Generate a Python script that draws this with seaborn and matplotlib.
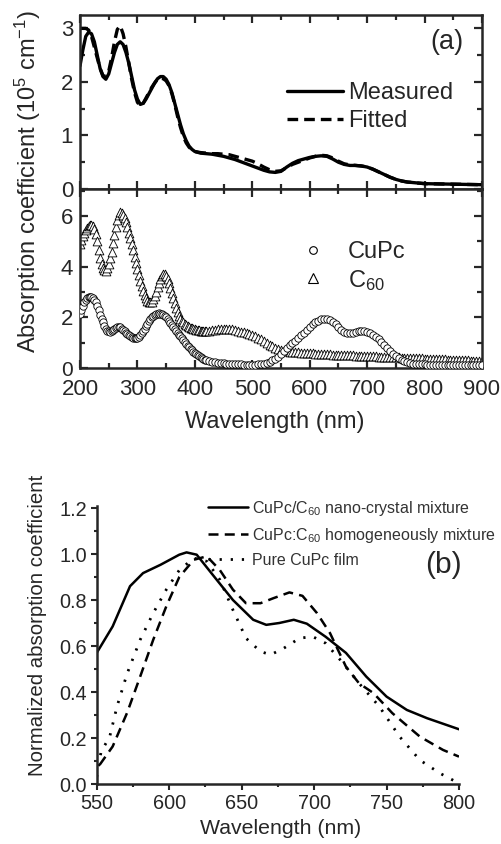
import numpy as np
import pandas as pd
import matplotlib
matplotlib.use("Agg")
import matplotlib.pyplot as plt
from matplotlib.ticker import MultipleLocator, FormatStrFormatter
from matplotlib.lines import Line2D
import seaborn as sns

# ---------------- data: panel (a) top ----------------
meas_x = [200, 205, 210, 215, 220, 225, 230, 235, 240, 245, 250, 255, 260, 265, 270, 275, 280, 285, 290, 295,
          300, 305, 310, 315, 320, 325, 330, 335, 340, 345, 350, 355, 360, 365, 370, 375, 380, 385, 390, 395,
          400, 410, 420, 430, 440, 450, 460, 470, 480, 490, 500, 510, 520, 530, 540, 550, 560, 570, 580, 590,
          600, 610, 620, 630, 640, 650, 660, 670, 680, 690, 700, 710, 720, 730, 740, 750, 760, 770, 780, 790,
          800, 850, 900]
measured = [2.3, 2.6, 2.85, 2.93, 2.9, 2.75, 2.5, 2.25, 2.1, 2.05, 2.15, 2.35, 2.55, 2.7, 2.75, 2.7, 2.55, 2.35, 2.1, 1.85,
            1.68, 1.58, 1.6, 1.68, 1.78, 1.88, 1.98, 2.06, 2.1, 2.1, 2.05, 1.95, 1.8, 1.6, 1.4, 1.2, 1.03, 0.9, 0.8, 0.74,
            0.7, 0.67, 0.66, 0.65, 0.63, 0.61, 0.58, 0.55, 0.51, 0.47, 0.43, 0.39, 0.35, 0.32, 0.31, 0.33, 0.41, 0.48, 0.53, 0.56,
            0.59, 0.61, 0.62, 0.61, 0.56, 0.5, 0.46, 0.44, 0.44, 0.43, 0.41, 0.37, 0.32, 0.27, 0.22, 0.18, 0.15, 0.13, 0.12, 0.11,
            0.1, 0.09, 0.08]
fitted = [3.0, 3.0, 3.0, 2.97, 2.85, 2.65, 2.45, 2.25, 2.12, 2.1, 2.2, 2.45, 2.75, 2.98, 3.05, 2.9, 2.65, 2.35, 2.05, 1.8,
          1.62, 1.55, 1.6, 1.7, 1.8, 1.9, 1.98, 2.05, 2.07, 2.06, 2.02, 1.93, 1.78, 1.58, 1.35, 1.15, 0.98, 0.86, 0.78, 0.73,
          0.7, 0.68, 0.67, 0.66, 0.66, 0.65, 0.64, 0.61, 0.58, 0.55, 0.52, 0.47, 0.41, 0.36, 0.33, 0.34, 0.4, 0.46, 0.5, 0.54,
          0.58, 0.61, 0.63, 0.62, 0.58, 0.52, 0.47, 0.45, 0.44, 0.43, 0.41, 0.37, 0.32, 0.27, 0.22, 0.18, 0.15, 0.13, 0.12, 0.11,
          0.1, 0.09, 0.08]

# ---------------- data: panel (a) bottom ----------------
# 2.5 nm steps over 200..417.5 nm, then 5 nm steps over 420..900 nm
comp_x = list(np.arange(200, 420, 2.5)) + list(range(420, 905, 5))
cupc = [2.15, 2.3, 2.45, 2.59, 2.7, 2.77, 2.8, 2.81, 2.8, 2.76,
        2.7, 2.59, 2.45, 2.28, 2.1, 1.94, 1.8, 1.66, 1.55, 1.48,
        1.45, 1.44, 1.45, 1.5, 1.55, 1.58, 1.6, 1.61, 1.6, 1.56,
        1.5, 1.45, 1.4, 1.35, 1.3, 1.26, 1.22, 1.19, 1.18, 1.18,
        1.2, 1.24, 1.3, 1.37, 1.45, 1.55, 1.65, 1.75, 1.85, 1.93,
        2.0, 2.06, 2.1, 2.13, 2.15, 2.16, 2.15, 2.13, 2.1, 2.06,
        2.0, 1.93, 1.85, 1.78, 1.7, 1.62, 1.55, 1.47, 1.4, 1.32,
        1.25, 1.17, 1.1, 1.02, 0.95, 0.88, 0.82, 0.76, 0.7, 0.65,
        0.6, 0.55, 0.5, 0.46, 0.42, 0.39, 0.36, 0.33,
        # 420 nm onward
        0.31, 0.27, 0.24, 0.22, 0.2, 0.19,
        0.18, 0.17, 0.16, 0.15, 0.15, 0.14, 0.14, 0.13, 0.13, 0.13,
        0.13, 0.13, 0.14, 0.15, 0.17, 0.2, 0.24, 0.3, 0.37, 0.45,
        0.55, 0.66, 0.78, 0.9, 0.98, 1.08, 1.18, 1.29, 1.4, 1.51,
        1.62, 1.72, 1.8, 1.87, 1.92, 1.95, 1.95, 1.9, 1.82, 1.72,
        1.6, 1.5, 1.42, 1.38, 1.37, 1.4, 1.44, 1.47, 1.48, 1.47,
        1.44, 1.39, 1.32, 1.24, 1.14, 1.03, 0.91, 0.79, 0.67, 0.56,
        0.46, 0.38, 0.31, 0.26, 0.22, 0.19, 0.17, 0.16, 0.15, 0.14,
        0.14, 0.13, 0.13, 0.13, 0.12, 0.12, 0.12, 0.12, 0.11, 0.11,
        0.11, 0.11, 0.1, 0.1, 0.1, 0.1, 0.1, 0.1, 0.1, 0.1, 0.1]
c60 = [4.9, 5.06, 5.2, 5.33, 5.45, 5.54, 5.6, 5.64, 5.65, 5.6,
       5.5, 5.28, 5.0, 4.66, 4.35, 4.1, 3.95, 3.87, 3.85, 3.93,
       4.1, 4.33, 4.6, 4.92, 5.25, 5.57, 5.85, 6.05, 6.15, 6.13,
       6.05, 5.92, 5.75, 5.56, 5.35, 5.13, 4.9, 4.65, 4.4, 4.14,
       3.9, 3.67, 3.45, 3.24, 3.05, 2.88, 2.75, 2.66, 2.6, 2.59,
       2.62, 2.71, 2.85, 3.02, 3.2, 3.37, 3.52, 3.64, 3.7, 3.7,
       3.65, 3.52, 3.35, 3.15, 2.95, 2.75, 2.55, 2.36, 2.2, 2.06,
       1.95, 1.86, 1.8, 1.75, 1.7, 1.66, 1.62, 1.59, 1.57, 1.55,
       1.53, 1.51, 1.5, 1.49, 1.48, 1.47, 1.47, 1.47,
       # 420 nm onward
       1.47, 1.48, 1.5, 1.52, 1.54, 1.55,
       1.56, 1.56, 1.55, 1.53, 1.5, 1.47, 1.44, 1.41, 1.38, 1.35,
       1.31, 1.26, 1.2, 1.13, 1.06, 0.99, 0.92, 0.86, 0.8, 0.76,
       0.72, 0.69, 0.67, 0.65, 0.64, 0.63, 0.62, 0.61, 0.6, 0.59,
       0.58, 0.58, 0.57, 0.56, 0.56, 0.55, 0.55, 0.54, 0.53, 0.53,
       0.52, 0.52, 0.51, 0.51, 0.5, 0.5, 0.49, 0.49, 0.48, 0.48,
       0.47, 0.47, 0.46, 0.46, 0.45, 0.45, 0.44, 0.44, 0.43, 0.43,
       0.42, 0.42, 0.41, 0.41, 0.4, 0.4, 0.39, 0.39, 0.38, 0.38,
       0.37, 0.37, 0.36, 0.36, 0.35, 0.35, 0.34, 0.34, 0.33, 0.33,
       0.32, 0.32, 0.31, 0.31, 0.3, 0.3, 0.29, 0.29, 0.28, 0.28, 0.27]

# ---------------- data: panel (b) ----------------
nano_x = [550, 561, 573, 582, 594, 607, 612, 619, 630, 644, 658, 667, 676, 686, 695, 708, 722, 736, 750, 764, 778, 800]
nano_y = [0.57, 0.685, 0.86, 0.917, 0.953, 0.997, 1.007, 0.997, 0.91, 0.80, 0.714, 0.692, 0.70, 0.714, 0.697, 0.64,
          0.57, 0.467, 0.38, 0.322, 0.286, 0.238]
homo_x = [552, 561, 571, 580, 589, 598, 607, 617, 626, 635, 644, 653, 663, 672, 683, 692, 702, 711, 722, 731, 741,
          754, 773, 789, 800]
homo_y = [0.083, 0.163, 0.31, 0.467, 0.627, 0.772, 0.90, 0.975, 0.99, 0.93, 0.845, 0.786, 0.786, 0.808, 0.833, 0.818,
          0.743, 0.656, 0.51, 0.438, 0.395, 0.308, 0.206, 0.148, 0.119]
pure_x = [550, 553, 559, 564, 571, 580, 589, 598, 607, 617, 626, 635, 644, 653, 663, 670, 679, 690, 699, 708, 718,
          731, 745, 759, 773, 787, 800]
pure_y = [0.03, 0.14, 0.206, 0.337, 0.48, 0.627, 0.743, 0.845, 0.93, 0.982, 0.968, 0.888, 0.757, 0.634, 0.576, 0.562,
          0.59, 0.634, 0.641, 0.612, 0.54, 0.438, 0.337, 0.206, 0.104, 0.046, 0.003]

# ---------------- style ----------------
sns.set_style("ticks")
plt.rcParams["font.family"] = ["Liberation Sans", "DejaVu Sans"]
plt.rcParams["mathtext.fontset"] = "custom"
plt.rcParams["mathtext.rm"] = "Liberation Sans"
plt.rcParams["mathtext.it"] = "Liberation Sans:italic"
plt.rcParams["mathtext.bf"] = "Liberation Sans:bold"

W, H = 502, 844
fig = plt.figure(figsize=(W / 100, H / 100), dpi=100)


def ax_rect(x0, y0, x1, y1):
    return [x0 / W, 1 - y1 / H, (x1 - x0) / W, (y1 - y0) / H]


ax1 = fig.add_axes(ax_rect(80, 15, 482, 189))
ax2 = fig.add_axes(ax_rect(80, 189, 482, 368))
axb = fig.add_axes(ax_rect(96.7, 505.7, 459, 784))

FS_A = 16
FS_B = 14.3

df_top = pd.DataFrame({"x": meas_x, "Measured": measured, "Fitted": fitted})
sns.lineplot(data=df_top, x="x", y="Measured", ax=ax1, color="black", lw=2.4, label="Measured")
sns.lineplot(data=df_top, x="x", y="Fitted", ax=ax1, color="black", lw=2.4, label="Fitted",
             linestyle=(0, (3.2, 1.8)))
ax1.set_xlim(200, 900)
ax1.set_ylim(0, 3.25)
ax1.yaxis.set_major_locator(MultipleLocator(1))
ax1.yaxis.set_minor_locator(MultipleLocator(0.5))

df_comp = pd.DataFrame({"x": comp_x, "CuPc": cupc, "C60": c60})
sns.scatterplot(data=df_comp, x="x", y="C60", ax=ax2, marker="^", s=40, facecolor="white",
                edgecolor="black", linewidth=0.6, zorder=2, legend=False)
sns.scatterplot(data=df_comp, x="x", y="CuPc", ax=ax2, marker="o", s=28, facecolor="white",
                edgecolor="black", linewidth=0.6, zorder=3, legend=False)
ax2.set_xlim(200, 900)
ax2.set_ylim(0, 7.07)
ax2.yaxis.set_major_locator(MultipleLocator(2))
ax2.yaxis.set_minor_locator(MultipleLocator(1))

for ax in (ax1, ax2):
    ax.xaxis.set_major_locator(MultipleLocator(100))
    ax.xaxis.set_minor_locator(MultipleLocator(50))
    ax.tick_params(which="both", direction="in", top=True, right=True, width=1.6, labelsize=FS_A)
    ax.tick_params(which="major", length=6)
    ax.tick_params(which="minor", length=3.5)
    ax.tick_params(axis="y", pad=5)
    ax.tick_params(axis="x", pad=8)
    for sp in ax.spines.values():
        sp.set_linewidth(1.8)
        sp.set_visible(True)
    ax.set_xlabel("")
    ax.set_ylabel("")
ax1.tick_params(labelbottom=False)

ax1.legend(loc="upper left", bbox_to_anchor=(0.515, 0.615), frameon=False, fontsize=17,
           handlelength=2.37, handletextpad=0.2, labelspacing=0.25, borderpad=0, borderaxespad=0)
h = [Line2D([], [], marker="o", ls="", mfc="white", mec="black", ms=5.5, mew=0.8),
     Line2D([], [], marker="^", ls="", mfc="white", mec="black", ms=6.5, mew=0.8)]
ax2.legend(h, ["CuPc", "C$_{60}$"], loc="upper left", bbox_to_anchor=(0.54, 0.71), frameon=False,
           fontsize=17, handlelength=1.35, handletextpad=0.8, labelspacing=0.2, borderpad=0, borderaxespad=0)
ax1.text(0.955, 0.845, "(a)", transform=ax1.transAxes, ha="right", va="center", fontsize=19.5)

fig.canvas.draw()
for lab in ax2.get_yticklabels():
    if lab.get_text() in ("0", "\u22120"):
        lab.set_va("center_baseline")
        lab.set_fontsize(15)

fig.text(28 / W, 1 - 353 / H, "Absorption coefficient (10$^{5}$ cm$^{-1}$)", rotation=90,
         ha="center", va="bottom", fontsize=17)
fig.text(275 / W, 1 - 422 / H, "Wavelength (nm)", ha="center", va="center", fontsize=17)

# ---------------- panel (b) ----------------
sns.lineplot(x=nano_x, y=nano_y, ax=axb, color="black", lw=1.8, label="CuPc/C$_{60}$ nano-crystal mixture")
sns.lineplot(x=homo_x, y=homo_y, ax=axb, color="black", lw=1.8, linestyle=(0, (4, 2.5)),
             label="CuPc:C$_{60}$ homogeneously mixture")
sns.lineplot(x=pure_x, y=pure_y, ax=axb, color="black", lw=2.0, linestyle=(0, (0.8, 3.2)),
             label="Pure CuPc film")
axb.set_xlim(550, 800)
axb.set_ylim(0, 1.21)
axb.xaxis.set_major_locator(MultipleLocator(50))
axb.xaxis.set_minor_locator(MultipleLocator(25))
axb.yaxis.set_major_locator(MultipleLocator(0.2))
axb.yaxis.set_minor_locator(MultipleLocator(0.1))
axb.yaxis.set_major_formatter(FormatStrFormatter("%.1f"))
axb.tick_params(which="both", direction="out", width=1.5, labelsize=FS_B, pad=3)
axb.tick_params(which="major", length=4)
axb.tick_params(which="minor", length=2.5)
for s in ("top", "right"):
    axb.spines[s].set_visible(False)
for s in ("left", "bottom"):
    axb.spines[s].set_linewidth(1.8)
axb.set_xlabel("")
axb.set_ylabel("")
axb.legend(loc="upper left", bbox_to_anchor=(0.307, 1.024), frameon=False, fontsize=11.5,
           handlelength=2.5, handletextpad=0.25, labelspacing=0.5, borderpad=0, borderaxespad=0,
           labelcolor="#333333")
axb.text(1.008, 0.787, "(b)", transform=axb.transAxes, ha="right", va="center", fontsize=21.5)
fig.text(38 / W, 1 - 776 / H, "Normalized absorption coefficient", rotation=90, ha="center", va="bottom",
         fontsize=14.7)
fig.text(281 / W, 1 - 829 / H, "Wavelength (nm)", ha="center", va="center", fontsize=15.3)

fig.savefig("out.png", dpi=100)
